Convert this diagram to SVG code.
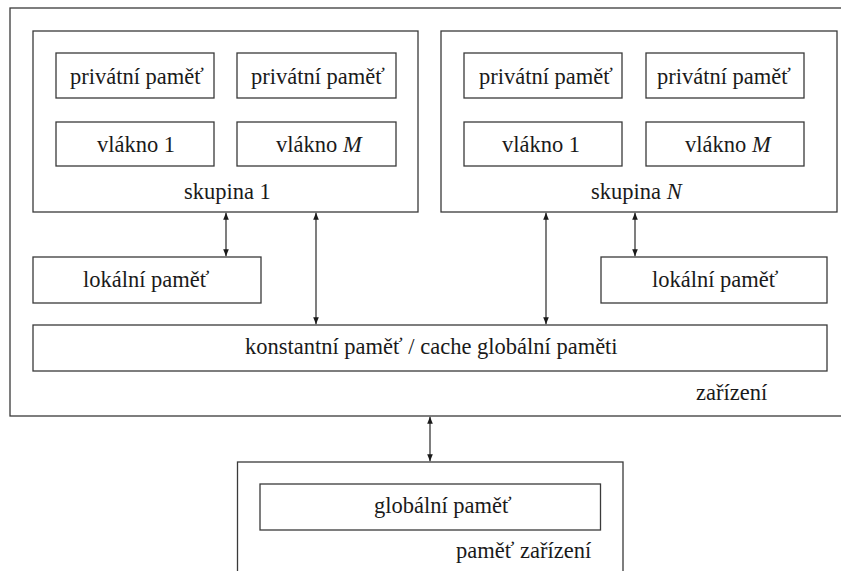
<svg xmlns="http://www.w3.org/2000/svg" width="841" height="571" viewBox="0 0 841 571">
<defs>
<marker id="ah" viewBox="0 0 10 10" refX="10" refY="5" markerWidth="7" markerHeight="7" markerUnits="userSpaceOnUse" orient="auto-start-reverse">
<path d="M0,1 L10,5 L0,9 Z" fill="#1a1a1a"/>
</marker>
</defs>
<g fill="#fff" stroke="#3a3a3a" stroke-width="1.3">
<g id="device"><rect x="10" y="8" width="840" height="408"/></g>
<g id="group1"><rect x="33" y="31" width="385" height="181"/></g>
<g id="g1-priv1"><rect x="56" y="53" width="158" height="45"/></g>
<g id="g1-priv2"><rect x="237" y="53" width="159" height="45"/></g>
<g id="g1-thr1"><rect x="56" y="122" width="158" height="44"/></g>
<g id="g1-thrM"><rect x="237" y="122" width="159" height="44"/></g>
<g id="groupN"><rect x="441" y="31" width="396" height="181"/></g>
<g id="gN-priv1"><rect x="464" y="53" width="158" height="45"/></g>
<g id="gN-priv2"><rect x="646" y="53" width="158" height="45"/></g>
<g id="gN-thr1"><rect x="464" y="122" width="158" height="44"/></g>
<g id="gN-thrM"><rect x="646" y="122" width="158" height="44"/></g>
<g id="local1"><rect x="33" y="257" width="228" height="46"/></g>
<g id="localN"><rect x="601" y="257" width="226" height="46"/></g>
<g id="const"><rect x="33" y="325" width="794" height="46"/></g>
<g id="devmem"><rect x="237.5" y="462" width="385.5" height="130"/></g>
<g id="global"><rect x="260" y="484" width="340.5" height="46"/></g>
</g>
<g id="labels" font-family="Times New Roman" font-size="22.5" fill="#1a1a1a">
<text x="696" y="400">zařízení</text>
<text x="184" y="199">skupina 1</text>
<text x="70" y="84">privátní paměť</text>
<text x="251" y="84">privátní paměť</text>
<text x="97" y="152">vlákno 1</text>
<text x="276" y="152">vlákno <tspan font-style="italic">M</tspan></text>
<text x="591" y="199">skupina <tspan font-style="italic">N</tspan></text>
<text x="479" y="84">privátní paměť</text>
<text x="657" y="84">privátní paměť</text>
<text x="502" y="152">vlákno 1</text>
<text x="685" y="152">vlákno <tspan font-style="italic">M</tspan></text>
<text x="83" y="287">lokální paměť</text>
<text x="652" y="287">lokální paměť</text>
<text x="245" y="354">konstantní paměť / cache globální paměti</text>
<text x="456" y="558">paměť zařízení</text>
<text x="374" y="513">globální paměť</text>
</g>
<g id="connectors" stroke="#3a3a3a" stroke-width="1.3" marker-start="url(#ah)" marker-end="url(#ah)">
<line x1="226" y1="212.7" x2="226" y2="256.3"/>
<line x1="316" y1="212.7" x2="316" y2="324.3"/>
<line x1="546" y1="212.7" x2="546" y2="324.3"/>
<line x1="635" y1="212.7" x2="635" y2="256.3"/>
<line x1="430" y1="416.7" x2="430" y2="461.3"/>
</g>
</svg>
